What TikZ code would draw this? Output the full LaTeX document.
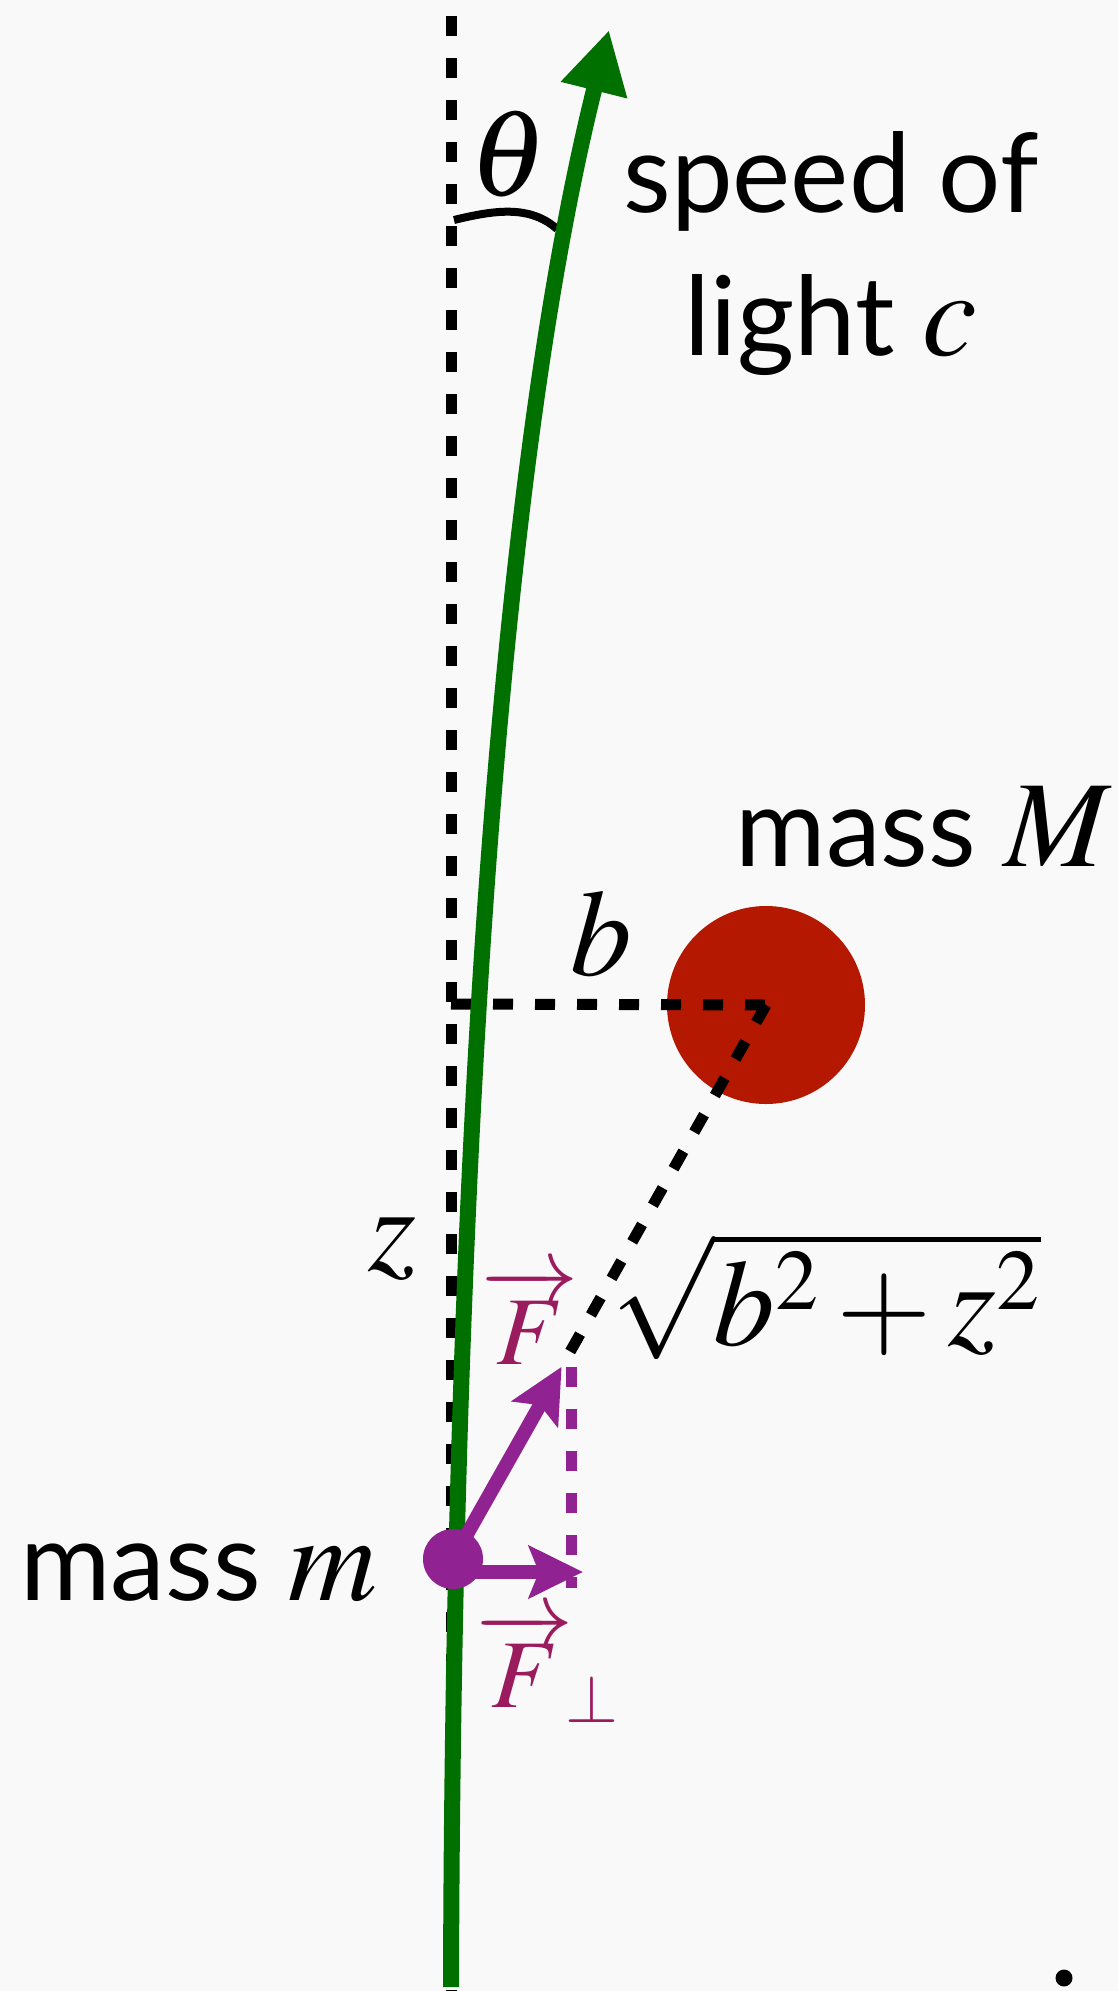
\documentclass[tikz,border=0pt]{standalone}
\usepackage{mathptmx}
\usepackage[no-math]{fontspec}
\setmainfont{Lato}
\usetikzlibrary{arrows.meta,calc}
\DeclareMathSizes{55}{61.5}{43}{31}
\DeclareMathSizes{44}{48.5}{34}{24}
\definecolor{bgcol}{RGB}{249,249,249}
\definecolor{raygreen}{RGB}{0,112,0}
\definecolor{massred}{RGB}{180,24,0}
\definecolor{forcepurple}{RGB}{145,34,145}
\definecolor{labelmagenta}{RGB}{155,27,95}

\begin{document}
\begin{tikzpicture}[x=0.5pt, y=-0.5pt, font=\fontsize{55}{66}\selectfont,
  lbl/.style={inner sep=0pt},
  flbl/.style={inner sep=0pt, text=labelmagenta, font=\fontsize{44}{52}\selectfont},
  guide/.style={draw=black, line width=5.5pt, dash pattern=on 10pt off 11pt},
  fguide/.style={draw=forcepurple, line width=5.5pt, dash pattern=on 10pt off 11pt},
  force/.style={draw=forcepurple, line width=7pt, -{Stealth[length=27pt, width=26pt, inset=5pt]}},
  ray/.style={draw=raygreen, line width=8pt, -{Triangle[length=31pt, width=32pt]}}]
\fill[bgcol] (0,0) rectangle (1118,1991);
\useasboundingbox (0,0) rectangle (1118,1991);
\node[circle, fill=massred, minimum size=99pt, inner sep=0pt] (M) at (766,1005) {};
\coordinate (top) at (451,16); \coordinate (bot) at (451,1991);
\coordinate (bfoot) at (451,1004);
\coordinate (arcL) at (454,220); \coordinate (arcR) at (557,229);
\coordinate (rayS) at (451,1987); \coordinate (rayE) at (609,30);
\draw[guide] (top) -- (bot);
\draw[guide] (bfoot) -- (M.center);
\draw[line width=4pt] (arcL) .. controls (495,210) and (530,205) .. (arcR);
\draw[ray] (rayS) .. controls (453,1187) and (496.5,480) .. (rayE);
\node[circle, fill=forcepurple, minimum size=30pt, inner sep=0pt] (m) at (453,1559) {};
\coordinate (Fend) at ($(M.center)!0.653!(m.center)$);
\coordinate (Fa) at (571,1367); \coordinate (Fb) at (571,1588);
\coordinate (Pend) at (583,1572);
\draw[guide] (M.center) -- (Fend);
\draw[fguide] (Fa) -- (Fb);
\draw[force] (m.center) -- (Fend);
\draw[force] (m.center |- Pend) -- (Pend);
% labels
\node[lbl] (theta) at (509,154) {$\theta$};
\node[lbl, anchor=base] (speed) at (831,213) {speed of};
\node[lbl, anchor=base] (light) at (831,355) {light $c$};
\node[lbl, anchor=base east] (Mlabel) at (1112,866) {mass $M$};
\node[lbl, anchor=base] (blabel) at (601,975) {$b$};
\node[lbl] (zlabel) at (392,1249) {$z$};
\node[flbl] (Flabel) at (530,1316) {$\overrightarrow{F}$};
\node[lbl] (dist) at (826,1296) {$\sqrt{b^2+z^2}$};
\node[lbl, anchor=base east] (mlabel) at (378,1600) {mass $m$};
\node[flbl] (Fperp) at (548,1667) {$\overrightarrow{F}_{\!\perp}$};
\fill (1064,1978) circle[radius=4.25pt];
\end{tikzpicture}
\end{document}
